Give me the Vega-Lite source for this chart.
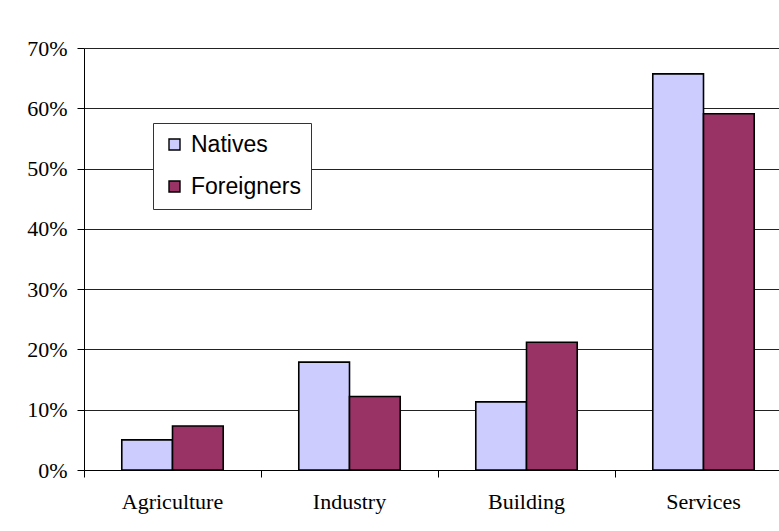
{
  "$schema": "https://vega.github.io/schema/vega-lite/v6.json",
  "width": 708,
  "height": 422,
  "autosize": {"type": "none"},
  "padding": {"left": 84, "top": 48, "right": -13, "bottom": 61},
  "background": "white",
  "config": {
    "view": {"stroke": null},
    "axis": {"labelColor": "black", "tickColor": "black", "domainColor": "black", "labelFont": "Liberation Serif"}
  },
  "data": {
    "values": [
      {"sector": "Agriculture", "group": "Natives", "share": 0.050},
      {"sector": "Agriculture", "group": "Foreigners", "share": 0.073},
      {"sector": "Industry", "group": "Natives", "share": 0.179},
      {"sector": "Industry", "group": "Foreigners", "share": 0.122},
      {"sector": "Building", "group": "Natives", "share": 0.113},
      {"sector": "Building", "group": "Foreigners", "share": 0.212},
      {"sector": "Services", "group": "Natives", "share": 0.657},
      {"sector": "Services", "group": "Foreigners", "share": 0.591}
    ]
  },
  "mark": {"type": "bar", "stroke": "black", "strokeWidth": 1.6},
  "encoding": {
    "x": {
      "field": "sector",
      "type": "nominal",
      "sort": ["Agriculture", "Industry", "Building", "Services"],
      "scale": {"paddingInner": 0, "paddingOuter": 0},
      "axis": {
        "title": null,
        "labelAngle": 0,
        "labelFontSize": 22,
        "labelPadding": 14,
        "tickSize": 7,
        "bandPosition": 0,
        "grid": false,
        "domainWidth": 1
      }
    },
    "xOffset": {
      "field": "group",
      "type": "nominal",
      "sort": ["Natives", "Foreigners"],
      "scale": {"paddingInner": 0, "paddingOuter": 0.745}
    },
    "y": {
      "field": "share",
      "type": "quantitative",
      "scale": {"domain": [0, 0.7], "nice": false},
      "axis": {
        "title": null,
        "format": ".0%",
        "values": [0, 0.1, 0.2, 0.3, 0.4, 0.5, 0.6, 0.7],
        "labelFontSize": 22,
        "labelPadding": 10,
        "tickSize": 7,
        "grid": true,
        "gridColor": "#222222",
        "gridWidth": 1,
        "domainWidth": 1
      }
    },
    "fill": {
      "field": "group",
      "type": "nominal",
      "sort": ["Natives", "Foreigners"],
      "scale": {"domain": ["Natives", "Foreigners"], "range": ["#CCCCFF", "#993366"]},
      "legend": {
        "title": null,
        "orient": "none",
        "legendX": 69,
        "legendY": 75,
        "direction": "vertical",
        "strokeColor": "#333333",
        "fillColor": "white",
        "padding": 10,
        "rowPadding": 18,
        "symbolType": "square",
        "symbolSize": 121,
        "symbolStrokeColor": "black",
        "symbolStrokeWidth": 1.4,
        "symbolOpacity": 1,
        "labelFont": "Liberation Sans",
        "labelFontSize": 23,
        "labelColor": "black",
        "labelOffset": 5,
        "labelLimit": 300
      }
    }
  }
}
